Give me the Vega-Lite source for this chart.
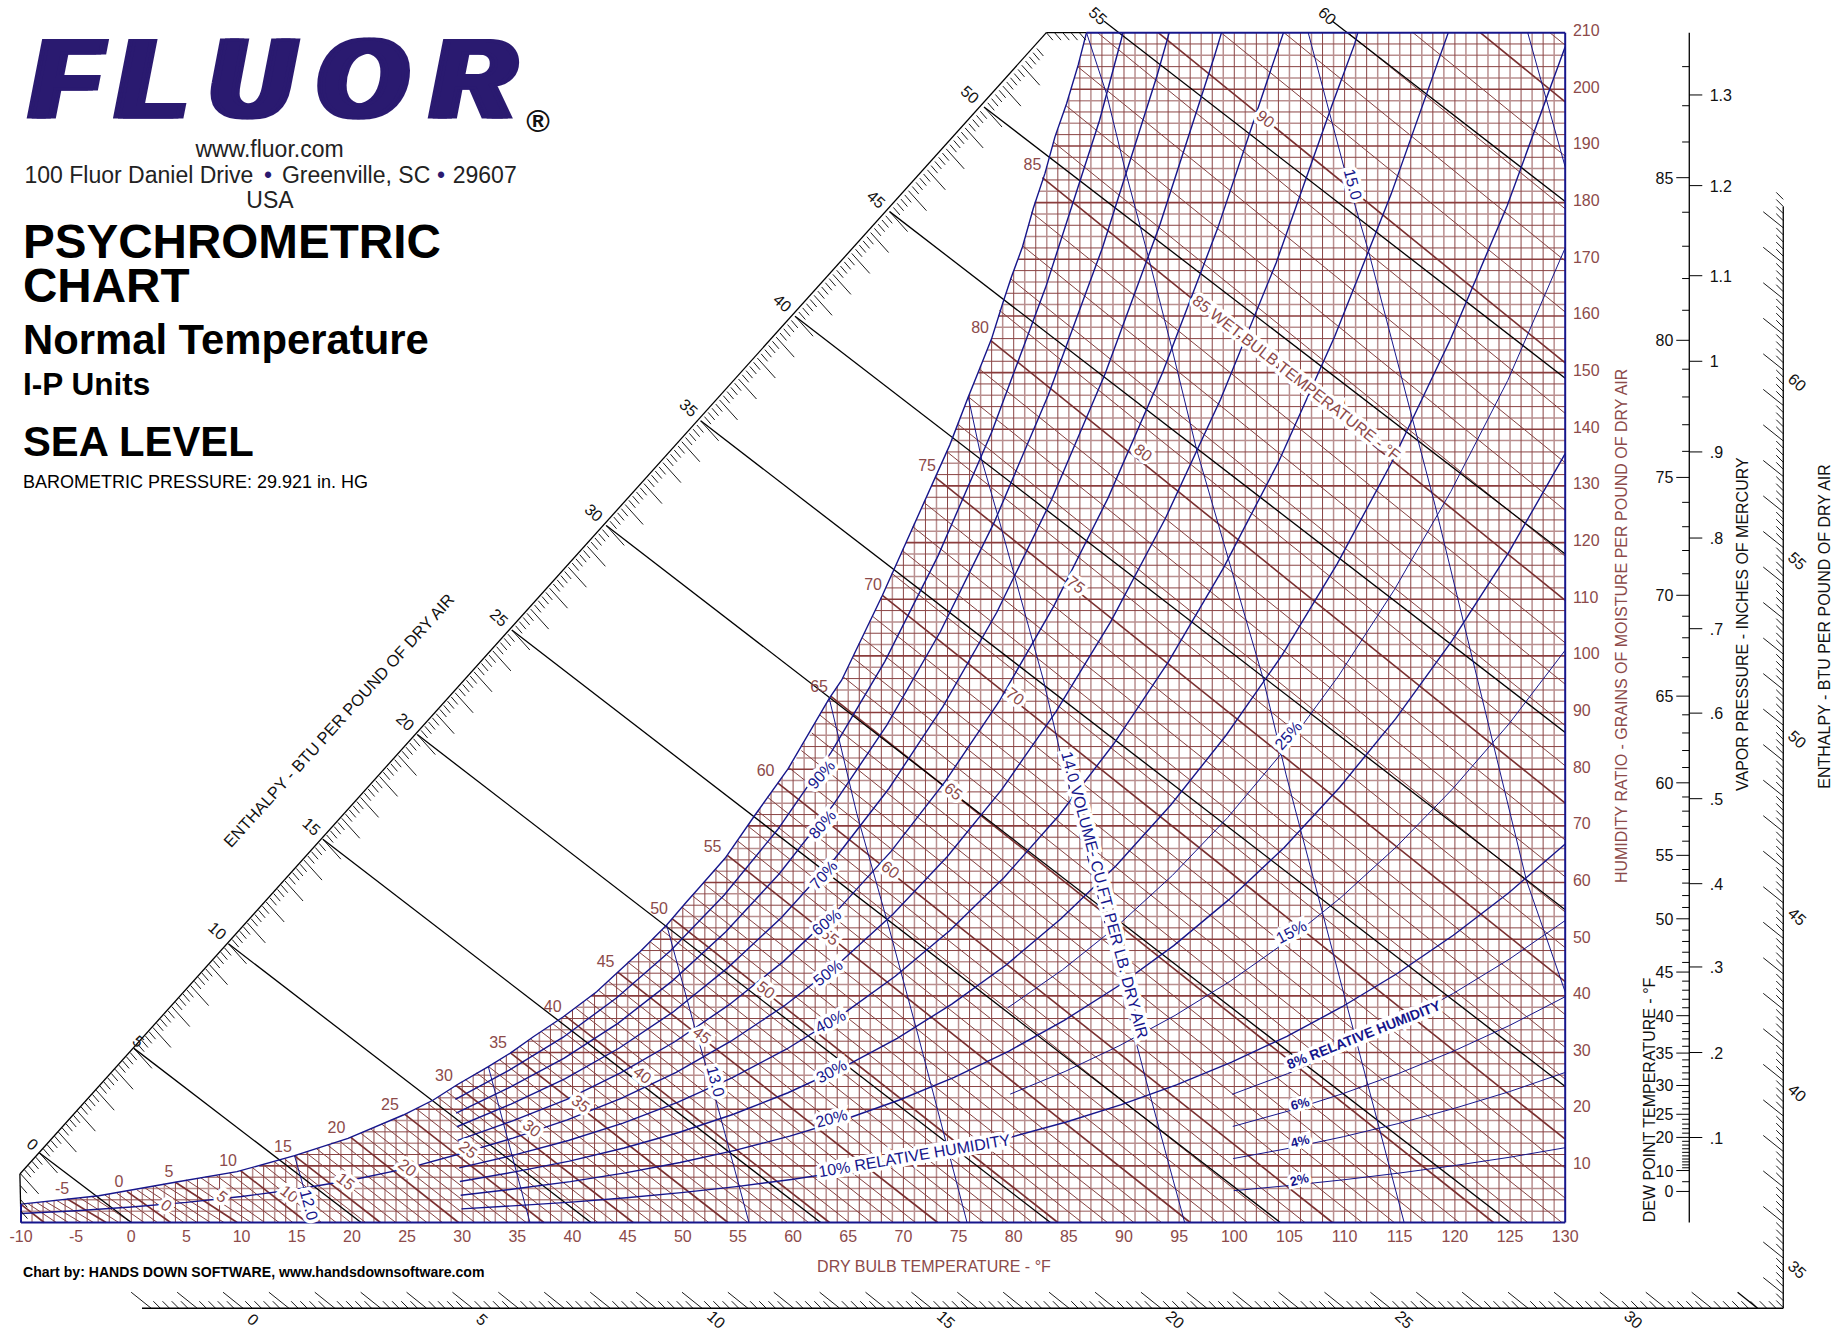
{"$schema":"https://vega.github.io/schema/vega-lite/v6.json","width":1842,"height":1335,"padding":0,"autosize":{"type":"fit","contains":"padding"},"background":"white","config":{"view":{"stroke":null}},
"datasets":{
"gv":[{"x":-10,"y":3.25},{"x":-9,"y":3.45},{"x":-8,"y":3.65},{"x":-7,"y":3.85},{"x":-6,"y":4.05},{"x":-5,"y":4.3},{"x":-4,"y":4.5},{"x":-3,"y":4.7},{"x":-2,"y":5},{"x":-1,"y":5.3},{"x":0,"y":5.6},{"x":1,"y":6},{"x":2,"y":6.4},{"x":3,"y":6.8},{"x":4,"y":7.1},{"x":5,"y":7.5},{"x":6,"y":7.8},{"x":7,"y":8.1},{"x":8,"y":8.4},{"x":9,"y":8.75},{"x":10,"y":9.2},{"x":11,"y":9.7},{"x":12,"y":10.2},{"x":13,"y":10.7},{"x":14,"y":11.3},{"x":15,"y":11.9},{"x":16,"y":12.5},{"x":17,"y":13.2},{"x":18,"y":13.8},{"x":19,"y":14.4},{"x":20,"y":15.1},{"x":21,"y":16},{"x":22,"y":16.8},{"x":23,"y":17.6},{"x":24,"y":18.4},{"x":25,"y":19.3},{"x":26,"y":20.2},{"x":27,"y":21.2},{"x":28,"y":22.3},{"x":29,"y":23.6},{"x":30,"y":24.9},{"x":31,"y":26},{"x":32,"y":27.1},{"x":33,"y":28.3},{"x":34,"y":29.5},{"x":35,"y":30.8},{"x":36,"y":32.2},{"x":37,"y":33.6},{"x":38,"y":34.8},{"x":39,"y":36.1},{"x":40,"y":37.5},{"x":41,"y":39},{"x":42,"y":40.5},{"x":43,"y":42.2},{"x":44,"y":44},{"x":45,"y":45.9},{"x":46,"y":47.6},{"x":47,"y":49.5},{"x":48,"y":51.4},{"x":49,"y":53.4},{"x":50,"y":55.8},{"x":51,"y":58},{"x":52,"y":60.2},{"x":53,"y":62.4},{"x":54,"y":64.7},{"x":55,"y":67.5},{"x":56,"y":70.3},{"x":57,"y":73.1},{"x":58,"y":75.8},{"x":59,"y":78.6},{"x":60,"y":81.3},{"x":61,"y":84.7},{"x":62,"y":88.1},{"x":63,"y":91.6},{"x":64,"y":94.6},{"x":65,"y":98},{"x":66,"y":102.2},{"x":67,"y":106.3},{"x":68,"y":110.4},{"x":69,"y":114.7},{"x":70,"y":119},{"x":71,"y":123.4},{"x":72,"y":127.7},{"x":73,"y":132},{"x":74,"y":136.4},{"x":75,"y":141.3},{"x":76,"y":146.3},{"x":77,"y":151.1},{"x":78,"y":156},{"x":79,"y":162.2},{"x":80,"y":168},{"x":81,"y":173.4},{"x":82,"y":180.3},{"x":83,"y":186.4},{"x":84,"y":193},{"x":85,"y":198.7},{"x":86,"y":205.3},{"x":87,"y":210},{"x":88,"y":210},{"x":89,"y":210},{"x":90,"y":210},{"x":91,"y":210},{"x":92,"y":210},{"x":93,"y":210},{"x":94,"y":210},{"x":95,"y":210},{"x":96,"y":210},{"x":97,"y":210},{"x":98,"y":210},{"x":99,"y":210},{"x":100,"y":210},{"x":101,"y":210},{"x":102,"y":210},{"x":103,"y":210},{"x":104,"y":210},{"x":105,"y":210},{"x":106,"y":210},{"x":107,"y":210},{"x":108,"y":210},{"x":109,"y":210},{"x":110,"y":210},{"x":111,"y":210},{"x":112,"y":210},{"x":113,"y":210},{"x":114,"y":210},{"x":115,"y":210},{"x":116,"y":210},{"x":117,"y":210},{"x":118,"y":210},{"x":119,"y":210},{"x":120,"y":210},{"x":121,"y":210},{"x":122,"y":210},{"x":123,"y":210},{"x":124,"y":210},{"x":125,"y":210},{"x":126,"y":210},{"x":127,"y":210},{"x":128,"y":210},{"x":129,"y":210}],
"gh":[{"y":2,"x":-10},{"y":4,"x":-6.2},{"y":6,"x":1},{"y":8,"x":6.7},{"y":10,"x":11.6},{"y":12,"x":15.1},{"y":14,"x":18.1},{"y":16,"x":21},{"y":18,"x":23.5},{"y":20,"x":25.8},{"y":22,"x":27.8},{"y":24,"x":29.3},{"y":26,"x":31},{"y":28,"x":32.8},{"y":30,"x":34.4},{"y":32,"x":35.9},{"y":34,"x":37.4},{"y":36,"x":38.9},{"y":38,"x":40.4},{"y":40,"x":41.7},{"y":42,"x":42.9},{"y":44,"x":44},{"y":46,"x":45},{"y":48,"x":46.2},{"y":50,"x":47.25},{"y":52,"x":48.3},{"y":54,"x":49.25},{"y":56,"x":50.1},{"y":58,"x":51},{"y":60,"x":51.9},{"y":62,"x":52.8},{"y":64,"x":53.7},{"y":66,"x":54.5},{"y":68,"x":55.2},{"y":70,"x":55.9},{"y":72,"x":56.6},{"y":74,"x":57.3},{"y":76,"x":58.1},{"y":78,"x":58.8},{"y":80,"x":59.5},{"y":82,"x":60.3},{"y":84,"x":60.8},{"y":86,"x":61.5},{"y":88,"x":62},{"y":90,"x":62.55},{"y":92,"x":63.1},{"y":94,"x":63.8},{"y":96,"x":64.5},{"y":98,"x":65},{"y":100,"x":65.46},{"y":102,"x":65.95},{"y":104,"x":66.45},{"y":106,"x":66.94},{"y":108,"x":67.43},{"y":110,"x":67.92},{"y":112,"x":68.4},{"y":114,"x":68.86},{"y":116,"x":69.32},{"y":118,"x":69.78},{"y":120,"x":70.24},{"y":122,"x":70.7},{"y":124,"x":71.16},{"y":126,"x":71.62},{"y":128,"x":72.08},{"y":130,"x":72.54},{"y":132,"x":73},{"y":134,"x":73.46},{"y":136,"x":73.9},{"y":138,"x":74.4},{"y":140,"x":74.76},{"y":142,"x":75.15},{"y":144,"x":75.55},{"y":146,"x":75.95},{"y":148,"x":76.35},{"y":150,"x":76.8},{"y":152,"x":77.2},{"y":154,"x":77.6},{"y":156,"x":78},{"y":158,"x":78.3},{"y":160,"x":78.6},{"y":162,"x":79},{"y":164,"x":79.3},{"y":166,"x":79.65},{"y":168,"x":80},{"y":170,"x":80.4},{"y":172,"x":80.8},{"y":174,"x":81.05},{"y":176,"x":81.35},{"y":178,"x":81.65},{"y":180,"x":81.9},{"y":182,"x":82.3},{"y":184,"x":82.65},{"y":186,"x":82.95},{"y":188,"x":83.25},{"y":190,"x":83.5},{"y":192,"x":83.8},{"y":194,"x":84.15},{"y":196,"x":84.5},{"y":198,"x":84.9},{"y":200,"x":85.2},{"y":202,"x":85.5},{"y":204,"x":85.8},{"y":206,"x":86.1},{"y":208,"x":86.35}],
"wb":[{"n":-10,"x":-10,"y":3.21,"x2":-7.9,"y2":0},{"n":-9,"x":-9.4,"y":3.38,"x2":-6.8,"y2":0},{"n":-8,"x":-8.6,"y":3.55,"x2":-5.7,"y2":0},{"n":-7,"x":-7.8,"y":3.73,"x2":-4.56,"y2":0},{"n":-6,"x":-6.8,"y":3.93,"x2":-3.43,"y2":0},{"n":-5,"x":-5.8,"y":4.14,"x2":-2.29,"y2":0},{"n":-4,"x":-4.7,"y":4.37,"x2":-1.14,"y2":0},{"n":-3,"x":-3.6,"y":4.6,"x2":0.01,"y2":0},{"n":-2,"x":-2.4,"y":4.85,"x2":1.17,"y2":0},{"n":-1,"x":-1.3,"y":5.15,"x2":2.36,"y2":0},{"n":0,"x":-0.4,"y":5.48,"x2":3.56,"y2":0},{"n":1,"x":0.5,"y":5.78,"x2":4.76,"y2":0},{"n":2,"x":1.25,"y":6.1,"x2":5.96,"y2":0},{"n":3,"x":2.1,"y":6.44,"x2":7.18,"y2":0},{"n":4,"x":2.9,"y":6.77,"x2":8.4,"y2":0},{"n":5,"x":4,"y":7.11,"x2":9.6,"y2":0},{"n":6,"x":5,"y":7.5,"x2":10.86,"y2":0},{"n":7,"x":6.3,"y":7.9,"x2":12.1,"y2":0},{"n":8,"x":7.7,"y":8.3,"x2":13.4,"y2":0},{"n":9,"x":8.9,"y":8.73,"x2":14.64,"y2":0},{"n":10,"x":9.9,"y":9.17,"x2":15.93,"y2":0},{"n":11,"x":11,"y":9.66,"x2":17.24,"y2":0},{"n":12,"x":12,"y":10.17,"x2":18.57,"y2":0},{"n":13,"x":13,"y":10.7,"x2":19.9,"y2":0},{"n":14,"x":13.9,"y":11.2,"x2":21.24,"y2":0},{"n":15,"x":14.8,"y":11.76,"x2":22.58,"y2":0},{"n":16,"x":15.8,"y":12.38,"x2":23.98,"y2":0},{"n":17,"x":16.8,"y":13.01,"x2":25.38,"y2":0},{"n":18,"x":17.8,"y":13.66,"x2":26.8,"y2":0},{"n":19,"x":18.9,"y":14.33,"x2":28.2,"y2":0},{"n":20,"x":19.9,"y":15.02,"x2":29.67,"y2":0},{"n":21,"x":20.8,"y":15.77,"x2":31.15,"y2":0},{"n":22,"x":21.7,"y":16.55,"x2":32.65,"y2":0},{"n":23,"x":22.7,"y":17.37,"x2":34.2,"y2":0},{"n":24,"x":23.8,"y":18.22,"x2":35.8,"y2":0},{"n":25,"x":24.8,"y":19.1,"x2":37.4,"y2":0},{"n":26,"x":25.85,"y":20.05,"x2":39,"y2":0},{"n":27,"x":26.85,"y":21.04,"x2":40.7,"y2":0},{"n":28,"x":27.8,"y":22.07,"x2":42.3,"y2":0},{"n":29,"x":28.6,"y":23.1,"x2":43.8,"y2":0},{"n":30,"x":29.45,"y":24.18,"x2":45.5,"y2":0},{"n":31,"x":30.25,"y":25.3,"x2":47.2,"y2":0},{"n":32,"x":31.3,"y":26.4,"x2":48.9,"y2":0},{"n":33,"x":32.4,"y":27.5,"x2":50.6,"y2":0},{"n":34,"x":33.4,"y":28.7,"x2":52.35,"y2":0},{"n":35,"x":34.4,"y":29.9,"x2":54.1,"y2":0},{"n":36,"x":35.2,"y":31.1,"x2":55.9,"y2":0},{"n":37,"x":36.2,"y":32.4,"x2":57.7,"y2":0},{"n":38,"x":37.15,"y":33.7,"x2":59.5,"y2":0},{"n":39,"x":38.2,"y":35.1,"x2":61.4,"y2":0},{"n":40,"x":39.3,"y":36.5,"x2":63.3,"y2":0},{"n":41,"x":40.25,"y":37.9,"x2":65.1,"y2":0},{"n":42,"x":41.25,"y":39.4,"x2":67.1,"y2":0},{"n":43,"x":42.35,"y":41,"x2":69.1,"y2":0},{"n":44,"x":43.25,"y":42.6,"x2":71.1,"y2":0},{"n":45,"x":44.1,"y":44.2,"x2":73.1,"y2":0},{"n":46,"x":45.05,"y":45.9,"x2":75.2,"y2":0},{"n":47,"x":46.05,"y":47.7,"x2":77.3,"y2":0},{"n":48,"x":47,"y":49.6,"x2":79.5,"y2":0},{"n":49,"x":48.1,"y":51.6,"x2":81.7,"y2":0},{"n":50,"x":49.05,"y":53.6,"x2":84,"y2":0},{"n":51,"x":49.95,"y":55.6,"x2":86.2,"y2":0},{"n":52,"x":50.85,"y":57.7,"x2":88.5,"y2":0},{"n":53,"x":51.85,"y":59.9,"x2":90.9,"y2":0},{"n":54,"x":52.95,"y":62.3,"x2":93.4,"y2":0},{"n":55,"x":54.05,"y":64.8,"x2":96,"y2":0},{"n":56,"x":55,"y":67.3,"x2":98.5,"y2":0},{"n":57,"x":55.95,"y":69.9,"x2":101.2,"y2":0},{"n":58,"x":56.8,"y":72.6,"x2":103.8,"y2":0},{"n":59,"x":57.65,"y":75.1,"x2":106.4,"y2":0},{"n":60,"x":58.6,"y":77.6,"x2":108.9,"y2":0},{"n":61,"x":59.6,"y":80.3,"x2":111.6,"y2":0},{"n":62,"x":60.75,"y":83.3,"x2":114.5,"y2":0},{"n":63,"x":61.7,"y":86.4,"x2":117.4,"y2":0},{"n":64,"x":62.4,"y":89.6,"x2":120.4,"y2":0},{"n":65,"x":63.4,"y":92.9,"x2":123.5,"y2":0},{"n":66,"x":64.55,"y":96.3,"x2":126.6,"y2":0},{"n":67,"x":65.4,"y":99.7,"x2":129.7,"y2":0},{"n":68,"x":66.25,"y":103.2,"x2":130,"y2":4.3},{"n":69,"x":67.2,"y":107,"x2":130,"y2":9.6},{"n":70,"x":68.1,"y":110.7,"x2":130,"y2":14.7},{"n":71,"x":69,"y":114.5,"x2":130,"y2":19.9},{"n":72,"x":69.9,"y":118.6,"x2":130,"y2":25.3},{"n":73,"x":70.85,"y":122.8,"x2":130,"y2":30.9},{"n":74,"x":71.85,"y":127.1,"x2":130,"y2":36.7},{"n":75,"x":72.9,"y":131.5,"x2":130,"y2":42.5},{"n":76,"x":73.9,"y":136.1,"x2":130,"y2":48.5},{"n":77,"x":75,"y":140.8,"x2":130,"y2":54.8},{"n":78,"x":75.9,"y":145.7,"x2":130,"y2":61},{"n":79,"x":76.9,"y":150.6,"x2":130,"y2":67.5},{"n":80,"x":77.9,"y":155.7,"x2":130,"y2":74},{"n":81,"x":78.7,"y":161,"x2":130,"y2":80.6},{"n":82,"x":79.7,"y":166.6,"x2":130,"y2":87.7},{"n":83,"x":80.85,"y":172.3,"x2":130,"y2":95},{"n":84,"x":81.6,"y":178.3,"x2":130,"y2":102.3},{"n":85,"x":82.6,"y":184.4,"x2":130,"y2":109.8},{"n":86,"x":83.6,"y":190.7,"x2":130,"y2":117.6},{"n":87,"x":84.75,"y":197.1,"x2":130,"y2":125.7},{"n":88,"x":85.8,"y":204,"x2":130,"y2":134.1},{"n":89,"x":87.6,"y":210,"x2":130,"y2":142.8},{"n":90,"x":93.1,"y":210,"x2":130,"y2":151.7},{"n":91,"x":98.8,"y":210,"x2":130,"y2":160.7},{"n":92,"x":104.5,"y":210,"x2":130,"y2":169.7},{"n":93,"x":110.3,"y":210,"x2":130,"y2":178.9},{"n":94,"x":116.2,"y":210,"x2":130,"y2":188.2},{"n":95,"x":122.3,"y":210,"x2":130,"y2":197.8},{"n":96,"x":128.6,"y":210,"x2":130,"y2":207.8}],
"hl":[{"x":-8.32,"y":12.27,"x2":0,"y2":0},{"x":0.24,"y":30.73,"x2":20.83,"y2":0},{"x":8.81,"y":49.19,"x2":41.67,"y2":0},{"x":17.37,"y":67.65,"x2":62.5,"y2":0},{"x":25.93,"y":86.11,"x2":83.33,"y2":0},{"x":34.5,"y":104.57,"x2":104.17,"y2":0},{"x":43.06,"y":123.03,"x2":125,"y2":0},{"x":51.62,"y":141.49,"x2":130,"y2":24},{"x":60.18,"y":159.95,"x2":130,"y2":55.2},{"x":68.75,"y":178.41,"x2":130,"y2":86.5},{"x":77.31,"y":196.87,"x2":130,"y2":118},{"x":88.2,"y":212,"x2":130,"y2":149},{"x":108.9,"y":212,"x2":130,"y2":180.2}],
"frameK":[{"x":-10.1,"y":8.55,"x2":-10,"y2":0},{"x":-10.1,"y":8.55,"x2":82.96,"y2":210},{"x":82.96,"y":210,"x2":86.6,"y2":210},{"x":0.97,"y":-15.13,"x2":149.77,"y2":-15.13},{"x":149.77,"y":-15.13,"x2":149.77,"y2":179.3},{"x":141.25,"y":0,"x2":141.25,"y2":210},{"x":147.44,"y":-15.13,"x2":145.63,"y2":-12.31}],
"frameB":[{"x":-10,"y":0,"x2":130,"y2":0},{"x":130,"y":0,"x2":130,"y2":210},{"x":86.6,"y":210,"x2":130,"y2":210},{"x":-10,"y":0,"x2":-10,"y2":3.25}],
"combL":[{"x":-10.03,"y":8.58},{"x":-8.32,"y":12.27},{"x":-6.61,"y":15.96},{"x":-4.89,"y":19.65},{"x":-3.18,"y":23.35},{"x":-1.47,"y":27.04},{"x":0.24,"y":30.73},{"x":1.96,"y":34.42},{"x":3.67,"y":38.11},{"x":5.38,"y":41.81},{"x":7.09,"y":45.5},{"x":8.81,"y":49.19},{"x":10.52,"y":52.88},{"x":12.23,"y":56.57},{"x":13.94,"y":60.27},{"x":15.66,"y":63.96},{"x":17.37,"y":67.65},{"x":19.08,"y":71.34},{"x":20.79,"y":75.03},{"x":22.51,"y":78.73},{"x":24.22,"y":82.42},{"x":25.93,"y":86.11},{"x":27.64,"y":89.8},{"x":29.36,"y":93.49},{"x":31.07,"y":97.19},{"x":32.78,"y":100.88},{"x":34.5,"y":104.57},{"x":36.21,"y":108.26},{"x":37.92,"y":111.95},{"x":39.63,"y":115.65},{"x":41.35,"y":119.34},{"x":43.06,"y":123.03},{"x":44.77,"y":126.72},{"x":46.48,"y":130.41},{"x":48.2,"y":134.11},{"x":49.91,"y":137.8},{"x":51.62,"y":141.49},{"x":53.33,"y":145.18},{"x":55.05,"y":148.87},{"x":56.76,"y":152.57},{"x":58.47,"y":156.26},{"x":60.18,"y":159.95},{"x":61.9,"y":163.64},{"x":63.61,"y":167.33},{"x":65.32,"y":171.03},{"x":67.03,"y":174.72},{"x":68.75,"y":178.41},{"x":70.46,"y":182.1},{"x":72.17,"y":185.79},{"x":73.88,"y":189.49},{"x":75.6,"y":193.18},{"x":77.31,"y":196.87},{"x":79.02,"y":200.56},{"x":80.73,"y":204.25}],
"combB":[{"x":1.8,"y":-15.13},{"x":5.97,"y":-15.13},{"x":10.13,"y":-15.13},{"x":14.29,"y":-15.13},{"x":18.45,"y":-15.13},{"x":22.61,"y":-15.13},{"x":26.77,"y":-15.13},{"x":30.93,"y":-15.13},{"x":35.09,"y":-15.13},{"x":39.25,"y":-15.13},{"x":43.42,"y":-15.13},{"x":47.58,"y":-15.13},{"x":51.74,"y":-15.13},{"x":55.9,"y":-15.13},{"x":60.06,"y":-15.13},{"x":64.22,"y":-15.13},{"x":68.38,"y":-15.13},{"x":72.54,"y":-15.13},{"x":76.7,"y":-15.13},{"x":80.86,"y":-15.13},{"x":85.02,"y":-15.13},{"x":89.19,"y":-15.13},{"x":93.35,"y":-15.13},{"x":97.51,"y":-15.13},{"x":101.67,"y":-15.13},{"x":105.83,"y":-15.13},{"x":109.99,"y":-15.13},{"x":114.15,"y":-15.13},{"x":118.31,"y":-15.13},{"x":122.47,"y":-15.13},{"x":126.63,"y":-15.13},{"x":130.8,"y":-15.13},{"x":134.96,"y":-15.13},{"x":139.12,"y":-15.13},{"x":143.28,"y":-15.13}],
"combR":[{"x":149.77,"y":-12.54},{"x":149.77,"y":-6.27},{"x":149.77,"y":0},{"x":149.77,"y":6.27},{"x":149.77,"y":12.54},{"x":149.77,"y":18.81},{"x":149.77,"y":25.08},{"x":149.77,"y":31.35},{"x":149.77,"y":37.62},{"x":149.77,"y":43.89},{"x":149.77,"y":50.16},{"x":149.77,"y":56.43},{"x":149.77,"y":62.7},{"x":149.77,"y":68.97},{"x":149.77,"y":75.24},{"x":149.77,"y":81.51},{"x":149.77,"y":87.78},{"x":149.77,"y":94.05},{"x":149.77,"y":100.32},{"x":149.77,"y":106.59},{"x":149.77,"y":112.86},{"x":149.77,"y":119.13},{"x":149.77,"y":125.4},{"x":149.77,"y":131.67},{"x":149.77,"y":137.94},{"x":149.77,"y":144.21},{"x":149.77,"y":150.48},{"x":149.77,"y":156.75},{"x":149.77,"y":163.02},{"x":149.77,"y":169.29},{"x":149.77,"y":175.56}],
"minUL":[{"x":147.44,"y":-15.13},{"x":148.27,"y":-15.13},{"x":149.1,"y":-15.13},{"x":149.77,"y":-15},{"x":149.77,"y":-13.8}],
"minDR":[{"x":83.7,"y":210},{"x":84.45,"y":210},{"x":85.2,"y":210},{"x":85.95,"y":210},{"x":82.96,"y":210},{"x":-10.05,"y":6.5},{"x":-10.02,"y":4},{"x":-10,"y":2}],
"rh":[
{"s":"100","x":-10,"y":3.25},{"s":"100","x":-2.94,"y":4.73},{"s":"100","x":4.23,"y":7.2},{"s":"100","x":9.58,"y":8.97},{"s":"100","x":14.8,"y":11.79},{"s":"100","x":19.65,"y":14.86},{"s":"100","x":24.66,"y":18.97},{"s":"100","x":27.38,"y":21.62},{"s":"100","x":29.5,"y":24.27},{"s":"100","x":32.37,"y":27.5},{"s":"100","x":34.33,"y":29.86},{"s":"100","x":36.45,"y":32.79},{"s":"100","x":39.17,"y":36.32},{"s":"100","x":42.19,"y":40.73},{"s":"100","x":44,"y":43.98},{"s":"100","x":46.12,"y":47.79},{"s":"100","x":48.54,"y":52.5},{"s":"100","x":50.35,"y":56.6},{"s":"100","x":51.56,"y":59.26},{"s":"100","x":53.83,"y":64.28},{"s":"100","x":56.55,"y":71.92},{"s":"100","x":59.57,"y":80.16},{"s":"100","x":63.28,"y":92.5},{"s":"100","x":64.4,"y":95.7},{"s":"100","x":68.1,"y":110.7},{"s":"100","x":74.2,"y":137.2},{"s":"100","x":75.88,"y":145.7},{"s":"100","x":76.94,"y":150.8},{"s":"100","x":78,"y":156},{"s":"100","x":79.05,"y":162.5},{"s":"100","x":79.8,"y":166.9},{"s":"100","x":80.8,"y":172.2},{"s":"100","x":81.78,"y":179},{"s":"100","x":82.84,"y":185.2},{"s":"100","x":83.74,"y":191.6},{"s":"100","x":84.8,"y":197.5},{"s":"100","x":85.85,"y":204.3},{"s":"100","x":86.6,"y":210},
{"s":"90","x":29.38,"y":21.75},{"s":"90","x":34.27,"y":26.9},{"s":"90","x":39.16,"y":32.7},{"s":"90","x":44.04,"y":39.7},{"s":"90","x":48.91,"y":48},{"s":"90","x":53.76,"y":57.8},{"s":"90","x":58.62,"y":69.4},{"s":"90","x":63.46,"y":83},{"s":"90","x":68.31,"y":99},{"s":"90","x":73.15,"y":117.7},{"s":"90","x":78.01,"y":139.5},{"s":"90","x":82.89,"y":165},{"s":"90","x":87.78,"y":194.5},{"s":"90","x":89.74,"y":208.7},{"s":"90","x":89.9,"y":210},
{"s":"80","x":29.45,"y":19.3},{"s":"80","x":34.35,"y":23.9},{"s":"80","x":39.25,"y":29},{"s":"80","x":44.15,"y":35.2},{"s":"80","x":49.03,"y":42.6},{"s":"80","x":53.9,"y":51.3},{"s":"80","x":58.77,"y":61.6},{"s":"80","x":63.64,"y":73.7},{"s":"80","x":68.5,"y":87.8},{"s":"80","x":73.36,"y":104.3},{"s":"80","x":78.24,"y":123.6},{"s":"80","x":83.13,"y":146},{"s":"80","x":88.04,"y":172},{"s":"80","x":92.98,"y":202.3},{"s":"80","x":94.1,"y":210},
{"s":"70","x":29.52,"y":16.9},{"s":"70","x":34.43,"y":20.9},{"s":"70","x":39.35,"y":25.4},{"s":"70","x":44.25,"y":30.8},{"s":"70","x":49.15,"y":37.2},{"s":"70","x":54.04,"y":44.9},{"s":"70","x":58.93,"y":53.8},{"s":"70","x":63.81,"y":64.3},{"s":"70","x":68.69,"y":76.6},{"s":"70","x":73.57,"y":91},{"s":"70","x":78.47,"y":107.7},{"s":"70","x":83.37,"y":127.3},{"s":"70","x":88.29,"y":149.8},{"s":"70","x":93.24,"y":176},{"s":"70","x":98.24,"y":206.1},{"s":"70","x":98.84,"y":210},
{"s":"60","x":29.59,"y":14.5},{"s":"60","x":34.51,"y":17.9},{"s":"60","x":39.44,"y":21.7},{"s":"60","x":44.36,"y":26.4},{"s":"60","x":49.27,"y":31.9},{"s":"60","x":54.18,"y":38.4},{"s":"60","x":59.08,"y":46},{"s":"60","x":63.98,"y":55},{"s":"60","x":68.88,"y":65.5},{"s":"60","x":73.78,"y":77.8},{"s":"60","x":78.69,"y":92},{"s":"60","x":83.61,"y":108.7},{"s":"60","x":88.54,"y":127.8},{"s":"60","x":93.5,"y":150},{"s":"60","x":98.5,"y":175.5},{"s":"60","x":103.55,"y":204.8},{"s":"60","x":104.46,"y":210},
{"s":"50","x":-10,"y":1.6},{"s":"50","x":-5,"y":2.07},{"s":"50","x":0,"y":2.74},{"s":"50","x":5,"y":3.55},{"s":"50","x":10,"y":4.59},{"s":"50","x":15,"y":5.88},{"s":"50","x":20,"y":7.5},{"s":"50","x":25,"y":9.55},{"s":"50","x":29.66,"y":12.05},{"s":"50","x":34.6,"y":14.9},{"s":"50","x":39.53,"y":18.1},{"s":"50","x":44.47,"y":21.95},{"s":"50","x":49.4,"y":26.5},{"s":"50","x":54.32,"y":31.95},{"s":"50","x":59.24,"y":38.3},{"s":"50","x":64.15,"y":45.7},{"s":"50","x":69.07,"y":54.45},{"s":"50","x":73.99,"y":64.6},{"s":"50","x":78.91,"y":76.4},{"s":"50","x":83.85,"y":90.2},{"s":"50","x":88.79,"y":106},{"s":"50","x":93.76,"y":124.3},{"s":"50","x":98.76,"y":145.3},{"s":"50","x":103.8,"y":169.4},{"s":"50","x":108.88,"y":197.3},{"s":"50","x":110.93,"y":208.1},{"s":"50","x":111.2,"y":210},
{"s":"40","x":29.73,"y":9.64},{"s":"40","x":34.68,"y":11.9},{"s":"40","x":39.63,"y":14.47},{"s":"40","x":44.58,"y":17.55},{"s":"40","x":49.52,"y":21.2},{"s":"40","x":54.45,"y":25.53},{"s":"40","x":59.39,"y":30.58},{"s":"40","x":64.32,"y":36.5},{"s":"40","x":69.26,"y":43.45},{"s":"40","x":74.19,"y":51.5},{"s":"40","x":79.13,"y":60.9},{"s":"40","x":84.08,"y":71.8},{"s":"40","x":89.04,"y":84.4},{"s":"40","x":94.01,"y":98.9},{"s":"40","x":99.01,"y":115.5},{"s":"40","x":104.05,"y":134.4},{"s":"40","x":109.11,"y":156.4},{"s":"40","x":114.22,"y":181.5},{"s":"40","x":119.4,"y":210},
{"s":"30","x":29.79,"y":7.23},{"s":"30","x":34.76,"y":8.93},{"s":"30","x":39.72,"y":10.84},{"s":"30","x":44.68,"y":13.15},{"s":"30","x":49.64,"y":15.89},{"s":"30","x":54.59,"y":19.11},{"s":"30","x":59.54,"y":22.9},{"s":"30","x":64.49,"y":27.34},{"s":"30","x":69.44,"y":32.5},{"s":"30","x":74.39,"y":38.54},{"s":"30","x":79.35,"y":45.5},{"s":"30","x":84.31,"y":53.65},{"s":"30","x":89.28,"y":62.97},{"s":"30","x":94.26,"y":73.72},{"s":"30","x":99.26,"y":86},{"s":"30","x":104.29,"y":100},{"s":"30","x":109.34,"y":116.3},{"s":"30","x":114.42,"y":134.7},{"s":"30","x":119.56,"y":155.7},{"s":"30","x":124.75,"y":179.5},{"s":"30","x":130,"y":207.5},
{"s":"20","x":29.86,"y":4.8},{"s":"20","x":34.84,"y":5.95},{"s":"20","x":39.81,"y":7.21},{"s":"20","x":44.79,"y":8.75},{"s":"20","x":49.76,"y":10.58},{"s":"20","x":54.73,"y":12.73},{"s":"20","x":59.7,"y":15.24},{"s":"20","x":64.66,"y":18.18},{"s":"20","x":69.63,"y":21.62},{"s":"20","x":74.6,"y":25.61},{"s":"20","x":79.57,"y":30.26},{"s":"20","x":84.54,"y":35.62},{"s":"20","x":89.52,"y":41.78},{"s":"20","x":94.51,"y":48.86},{"s":"20","x":99.51,"y":56.98},{"s":"20","x":104.53,"y":66.2},{"s":"20","x":109.56,"y":76.82},{"s":"20","x":114.62,"y":88.88},{"s":"20","x":119.71,"y":102.6},{"s":"20","x":124.83,"y":118.1},{"s":"20","x":130,"y":135.7},
{"s":"10","x":29.93,"y":2.4},{"s":"10","x":34.92,"y":2.97},{"s":"10","x":39.91,"y":3.6},{"s":"10","x":44.89,"y":4.37},{"s":"10","x":49.88,"y":5.28},{"s":"10","x":54.86,"y":6.34},{"s":"10","x":59.85,"y":7.6},{"s":"10","x":64.83,"y":9.07},{"s":"10","x":69.82,"y":10.78},{"s":"10","x":74.8,"y":12.77},{"s":"10","x":79.79,"y":15.07},{"s":"10","x":84.77,"y":17.74},{"s":"10","x":89.76,"y":20.79},{"s":"10","x":94.76,"y":24.3},{"s":"10","x":99.76,"y":28.31},{"s":"10","x":104.77,"y":32.85},{"s":"10","x":109.78,"y":38.08},{"s":"10","x":114.81,"y":43.99},{"s":"10","x":119.86,"y":50.69},{"s":"10","x":124.92,"y":58.25},{"s":"10","x":130,"y":66.8}],
"rhThin":[
{"s":"15","x":79.68,"y":22.65},{"s":"15","x":84.66,"y":26.66},{"s":"15","x":89.64,"y":31.26},{"s":"15","x":94.63,"y":36.55},{"s":"15","x":99.64,"y":42.6},{"s":"15","x":104.65,"y":49.47},{"s":"15","x":109.67,"y":57.37},{"s":"15","x":114.71,"y":66.33},{"s":"15","x":119.78,"y":76.5},{"s":"15","x":124.88,"y":87.95},{"s":"15","x":130,"y":101},
{"s":"25","x":79.46,"y":37.89},{"s":"25","x":84.43,"y":44.61},{"s":"25","x":89.4,"y":52.35},{"s":"25","x":94.39,"y":61.26},{"s":"25","x":99.39,"y":71.45},{"s":"25","x":104.41,"y":83.08},{"s":"25","x":109.45,"y":96.46},{"s":"25","x":114.52,"y":111.7},{"s":"25","x":119.63,"y":129},{"s":"25","x":124.79,"y":148.6},{"s":"25","x":130,"y":172},
{"s":"2","x":99.95,"y":5.62},{"s":"2","x":104.95,"y":6.52},{"s":"2","x":109.96,"y":7.55},{"s":"2","x":114.96,"y":8.73},{"s":"2","x":119.97,"y":10.05},{"s":"2","x":124.98,"y":11.52},{"s":"2","x":130,"y":13.2},
{"s":"4","x":99.9,"y":11.28},{"s":"4","x":104.91,"y":13.08},{"s":"4","x":109.91,"y":15.15},{"s":"4","x":114.92,"y":17.49},{"s":"4","x":119.94,"y":20.14},{"s":"4","x":124.97,"y":23.11},{"s":"4","x":130,"y":26.48},
{"s":"6","x":99.86,"y":16.95},{"s":"6","x":104.86,"y":19.65},{"s":"6","x":109.87,"y":22.76},{"s":"6","x":114.89,"y":26.29},{"s":"6","x":119.91,"y":30.27},{"s":"6","x":124.95,"y":34.77},{"s":"6","x":130,"y":39.85},
{"s":"8","x":99.81,"y":22.62},{"s":"8","x":104.81,"y":26.25},{"s":"8","x":109.83,"y":30.4},{"s":"8","x":114.85,"y":35.12},{"s":"8","x":119.88,"y":40.46},{"s":"8","x":124.93,"y":46.47},{"s":"8","x":130,"y":53.29},
{"s":"v12","x":14.8,"y":11.79},{"s":"v12","x":16.53,"y":0},
{"s":"v125","x":32.37,"y":27.5},{"s":"v125","x":36.14,"y":0},
{"s":"v13","x":48.54,"y":52.5},{"s":"v13","x":51.1,"y":34.3},{"s":"v13","x":52.92,"y":22.2},{"s":"v13","x":56,"y":0},
{"s":"v135","x":63.28,"y":92.5},{"s":"v135","x":65.77,"y":72.2},{"s":"v135","x":68.5,"y":53.4},{"s":"v135","x":71.2,"y":34},{"s":"v135","x":72.4,"y":25.1},{"s":"v135","x":75.77,"y":0},
{"s":"v14","x":75.88,"y":145.7},{"s":"v14","x":77.1,"y":134.6},{"s":"v14","x":78.6,"y":124.5},{"s":"v14","x":82.7,"y":95.7},{"s":"v14","x":84.2,"y":83.1},{"s":"v14","x":92,"y":25.1},{"s":"v14","x":95.5,"y":0},
{"s":"v145","x":86.6,"y":210},{"s":"v145","x":88.4,"y":199.3},{"s":"v145","x":90.1,"y":185.8},{"s":"v145","x":92.2,"y":170.5},{"s":"v145","x":94.3,"y":154.6},{"s":"v145","x":96.6,"y":136.3},{"s":"v145","x":102.6,"y":96.1},{"s":"v145","x":104.7,"y":79},{"s":"v145","x":115.4,"y":0},
{"s":"v15","x":106.7,"y":210},{"s":"v15","x":110,"y":185.8},{"s":"v15","x":112.2,"y":171.2},{"s":"v15","x":118.2,"y":126.6},{"s":"v15","x":126.5,"y":60.3},{"s":"v15","x":130,"y":40.7},
{"s":"v155","x":126.6,"y":210},{"s":"v155","x":130,"y":186.3}],
"dpMinor":[{"x":140.6,"x2":141.25,"y":7.2},{"x":140.6,"x2":141.25,"y":9.66},{"x":140.6,"x2":141.25,"y":10.17},{"x":140.6,"x2":141.25,"y":10.7},{"x":140.6,"x2":141.25,"y":11.2},{"x":140.6,"x2":141.25,"y":11.76},{"x":140.6,"x2":141.25,"y":12.38},{"x":140.6,"x2":141.25,"y":13.01},{"x":140.6,"x2":141.25,"y":13.66},{"x":140.6,"x2":141.25,"y":14.33},{"x":140.6,"x2":141.25,"y":15.77},{"x":140.6,"x2":141.25,"y":16.55},{"x":140.6,"x2":141.25,"y":17.37},{"x":140.6,"x2":141.25,"y":18.22},{"x":140.6,"x2":141.25,"y":20.05},{"x":140.6,"x2":141.25,"y":21.04},{"x":140.6,"x2":141.25,"y":22.07},{"x":140.6,"x2":141.25,"y":23.1},{"x":140.6,"x2":141.25,"y":25.3},{"x":140.6,"x2":141.25,"y":26.4},{"x":140.6,"x2":141.25,"y":27.5},{"x":140.6,"x2":141.25,"y":28.7},{"x":140.6,"x2":141.25,"y":31.1},{"x":140.6,"x2":141.25,"y":32.4},{"x":140.6,"x2":141.25,"y":33.7},{"x":140.6,"x2":141.25,"y":35.1},{"x":140.6,"x2":141.25,"y":37.9},{"x":140.6,"x2":141.25,"y":39.4},{"x":140.6,"x2":141.25,"y":41},{"x":140.6,"x2":141.25,"y":42.6},{"x":140.6,"x2":141.25,"y":45.9},{"x":140.6,"x2":141.25,"y":47.7},{"x":140.6,"x2":141.25,"y":49.6},{"x":140.6,"x2":141.25,"y":51.6},{"x":140.6,"x2":141.25,"y":55.6},{"x":140.6,"x2":141.25,"y":57.7},{"x":140.6,"x2":141.25,"y":59.9},{"x":140.6,"x2":141.25,"y":62.3},{"x":140.6,"x2":141.25,"y":67.3},{"x":140.6,"x2":141.25,"y":69.9},{"x":140.6,"x2":141.25,"y":72.6},{"x":140.6,"x2":141.25,"y":75.1},{"x":140.6,"x2":141.25,"y":80.3},{"x":140.6,"x2":141.25,"y":83.3},{"x":140.6,"x2":141.25,"y":86.4},{"x":140.6,"x2":141.25,"y":89.6},{"x":140.6,"x2":141.25,"y":96.3},{"x":140.6,"x2":141.25,"y":99.7},{"x":140.6,"x2":141.25,"y":103.2},{"x":140.6,"x2":141.25,"y":107},{"x":140.6,"x2":141.25,"y":114.5},{"x":140.6,"x2":141.25,"y":118.6},{"x":140.6,"x2":141.25,"y":122.8},{"x":140.6,"x2":141.25,"y":127.1},{"x":140.6,"x2":141.25,"y":136.1},{"x":140.6,"x2":141.25,"y":140.8},{"x":140.6,"x2":141.25,"y":145.7},{"x":140.6,"x2":141.25,"y":150.6},{"x":140.6,"x2":141.25,"y":161},{"x":140.6,"x2":141.25,"y":166.6},{"x":140.6,"x2":141.25,"y":172.3},{"x":140.6,"x2":141.25,"y":178.3},{"x":140.6,"x2":141.25,"y":190.7},{"x":140.6,"x2":141.25,"y":197.1},{"x":140.6,"x2":141.25,"y":204},
{"x":140.07,"x2":141.25,"y":5.48},{"x":140.07,"x2":141.25,"y":9.17},{"x":140.07,"x2":141.25,"y":15.02},{"x":140.07,"x2":141.25,"y":19.1},{"x":140.07,"x2":141.25,"y":24.18},{"x":140.07,"x2":141.25,"y":29.9},{"x":140.07,"x2":141.25,"y":36.5},{"x":140.07,"x2":141.25,"y":44.2},{"x":140.07,"x2":141.25,"y":53.6},{"x":140.07,"x2":141.25,"y":64.8},{"x":140.07,"x2":141.25,"y":77.6},{"x":140.07,"x2":141.25,"y":92.9},{"x":140.07,"x2":141.25,"y":110.7},{"x":140.07,"x2":141.25,"y":131.5},{"x":140.07,"x2":141.25,"y":155.7},{"x":140.07,"x2":141.25,"y":184.4},
{"x":141.25,"x2":142.43,"y":15},{"x":141.25,"x2":142.43,"y":30},{"x":141.25,"x2":142.43,"y":45.1},{"x":141.25,"x2":142.43,"y":59.8},{"x":141.25,"x2":142.43,"y":74.8},{"x":141.25,"x2":142.43,"y":89.9},{"x":141.25,"x2":142.43,"y":104.8},{"x":141.25,"x2":142.43,"y":120.8},{"x":141.25,"x2":142.43,"y":136},{"x":141.25,"x2":142.43,"y":152},{"x":141.25,"x2":142.43,"y":167.1},{"x":141.25,"x2":142.43,"y":183},{"x":141.25,"x2":142.43,"y":199}],
"dp":[{"t":"0","x":139.8,"y":5.48},{"t":"10","x":139.8,"y":9.17},{"t":"20","x":139.8,"y":15.02},{"t":"25","x":139.8,"y":19.1},{"t":"30","x":139.8,"y":24.18},{"t":"35","x":139.8,"y":29.9},{"t":"40","x":139.8,"y":36.5},{"t":"45","x":139.8,"y":44.2},{"t":"50","x":139.8,"y":53.6},{"t":"55","x":139.8,"y":64.8},{"t":"60","x":139.8,"y":77.6},{"t":"65","x":139.8,"y":92.9},{"t":"70","x":139.8,"y":110.7},{"t":"75","x":139.8,"y":131.5},{"t":"80","x":139.8,"y":155.7},{"t":"85","x":139.8,"y":184.4}],
"vp":[{"t":".1","x":143.1,"y":15},{"t":".2","x":143.1,"y":30},{"t":".3","x":143.1,"y":45.1},{"t":".4","x":143.1,"y":59.8},{"t":".5","x":143.1,"y":74.8},{"t":".6","x":143.1,"y":89.9},{"t":".7","x":143.1,"y":104.8},{"t":".8","x":143.1,"y":120.8},{"t":".9","x":143.1,"y":136},{"t":"1","x":143.1,"y":152},{"t":"1.1","x":143.1,"y":167.1},{"t":"1.2","x":143.1,"y":183},{"t":"1.3","x":143.1,"y":199}],
"xl":[{"t":"-10","x":-10,"y":-2.5},{"t":"-5","x":-5,"y":-2.5},{"t":"0","x":0,"y":-2.5},{"t":"5","x":5,"y":-2.5},{"t":"10","x":10,"y":-2.5},{"t":"15","x":15,"y":-2.5},{"t":"20","x":20,"y":-2.5},{"t":"25","x":25,"y":-2.5},{"t":"30","x":30,"y":-2.5},{"t":"35","x":35,"y":-2.5},{"t":"40","x":40,"y":-2.5},{"t":"45","x":45,"y":-2.5},{"t":"50","x":50,"y":-2.5},{"t":"55","x":55,"y":-2.5},{"t":"60","x":60,"y":-2.5},{"t":"65","x":65,"y":-2.5},{"t":"70","x":70,"y":-2.5},{"t":"75","x":75,"y":-2.5},{"t":"80","x":80,"y":-2.5},{"t":"85","x":85,"y":-2.5},{"t":"90","x":90,"y":-2.5},{"t":"95","x":95,"y":-2.5},{"t":"100","x":100,"y":-2.5},{"t":"105","x":105,"y":-2.5},{"t":"110","x":110,"y":-2.5},{"t":"115","x":115,"y":-2.5},{"t":"120","x":120,"y":-2.5},{"t":"125","x":125,"y":-2.5},{"t":"130","x":130,"y":-2.5}],
"yl":[{"t":"10","x":130.7,"y":10.3},{"t":"20","x":130.7,"y":20.3},{"t":"30","x":130.7,"y":30.3},{"t":"40","x":130.7,"y":40.3},{"t":"50","x":130.7,"y":50.3},{"t":"60","x":130.7,"y":60.3},{"t":"70","x":130.7,"y":70.3},{"t":"80","x":130.7,"y":80.3},{"t":"90","x":130.7,"y":90.3},{"t":"100","x":130.7,"y":100.3},{"t":"110","x":130.7,"y":110.3},{"t":"120","x":130.7,"y":120.3},{"t":"130","x":130.7,"y":130.3},{"t":"140","x":130.7,"y":140.3},{"t":"150","x":130.7,"y":150.3},{"t":"160","x":130.7,"y":160.3},{"t":"170","x":130.7,"y":170.3},{"t":"180","x":130.7,"y":180.3},{"t":"190","x":130.7,"y":190.3},{"t":"200","x":130.7,"y":200.3},{"t":"210","x":130.7,"y":210.3}],
"wbOut":[{"t":"-5","x":-6.28,"y":5.9},{"t":"0","x":-1.11,"y":7.15},{"t":"5","x":3.42,"y":8.9},{"t":"10","x":8.77,"y":10.9},{"t":"15","x":13.75,"y":13.4},{"t":"20","x":18.6,"y":16.7},{"t":"25","x":23.45,"y":20.7},{"t":"30","x":28.35,"y":25.9},{"t":"35","x":33.25,"y":31.6},{"t":"40","x":38.2,"y":38},{"t":"45","x":43,"y":46},{"t":"50","x":47.85,"y":55.4},{"t":"55","x":52.7,"y":66.3},{"t":"60","x":57.5,"y":79.7},{"t":"65","x":62.35,"y":94.5},{"t":"70","x":67.25,"y":112.5},{"t":"75","x":72.15,"y":133.5},{"t":"80","x":76.95,"y":157.9},{"t":"85","x":81.7,"y":186.6}],
"wbIn":[{"t":"0","x":3.15,"y":2.96},{"t":"5","x":8.2,"y":4.5},{"t":"10","x":14.3,"y":5},{"t":"15","x":19.4,"y":7.2},{"t":"20","x":25,"y":9.6},{"t":"25","x":30.5,"y":12.8},{"t":"30","x":36.3,"y":16.6},{"t":"35","x":40.7,"y":20.9},{"t":"40","x":46.3,"y":26},{"t":"45","x":51.7,"y":33},{"t":"50","x":57.5,"y":41},{"t":"55","x":63.3,"y":50.4},{"t":"60","x":68.8,"y":62.2},{"t":"65","x":74.5,"y":76},{"t":"70","x":80.1,"y":92.8},{"t":"75","x":85.6,"y":112.5},{"t":"80","x":91.7,"y":135.8},{"t":"90","x":102.8,"y":194.7},{"t":"85 WET BULB TEMPERATURE - °F","x":105.6,"y":149}],
"volLab":[{"t":"12.0","x":16.06,"y":3.1},{"t":"13.0","x":52.92,"y":24.9},{"t":"15.0","x":110.7,"y":183.2},{"t":"14.0 VOLUME- CU.FT. PER LB. DRY AIR","x":88.2,"y":57.8}],
"rhA":[{"t":"90%","x":62.59,"y":79},{"t":"80%","x":62.68,"y":70.2},{"t":"70%","x":62.8,"y":61.3},{"t":"25%","x":104.93,"y":85.9}],
"rhB":[{"t":"60%","x":63.05,"y":52.9},{"t":"50%","x":63.2,"y":44}],
"rhC":[{"t":"40%","x":63.4,"y":35.4},{"t":"30%","x":63.5,"y":26.6},{"t":"15%","x":105.2,"y":51.2}],
"rhD":[{"t":"20%","x":63.5,"y":18.3}],
"rhE":[{"t":"10% RELATIVE HUMIDITY","x":71,"y":11.7}],
"rhF":[{"t":"8% RELATIVE HUMIDITY","x":111.76,"y":33}],
"rhG":[{"t":"6%","x":105.96,"y":20.9},{"t":"4%","x":105.96,"y":14.3},{"t":"2%","x":105.9,"y":7.5}],
"enthOut":[{"t":"0","x":-9,"y":13.7},{"t":"5","x":0.61,"y":31.9},{"t":"10","x":7.77,"y":51.4},{"t":"15","x":16.3,"y":69.8},{"t":"20","x":24.8,"y":88.3},{"t":"25","x":33.3,"y":106.7},{"t":"30","x":41.9,"y":125.2},{"t":"35","x":50.5,"y":143.7},{"t":"40","x":59,"y":162.2},{"t":"45","x":67.5,"y":180.5},{"t":"50","x":76,"y":199},{"t":"55","x":87.6,"y":212.9},{"t":"60","x":108.4,"y":212.9},{"t":"0","x":11,"y":-17.2},{"t":"5","x":31.76,"y":-17.2},{"t":"10","x":53,"y":-17.2},{"t":"15","x":73.83,"y":-17.2},{"t":"20","x":94.6,"y":-17.2},{"t":"25","x":115.38,"y":-17.2},{"t":"30","x":136.15,"y":-17.2},{"t":"35","x":151,"y":-8.38},{"t":"40","x":151,"y":22.8},{"t":"45","x":151,"y":53.9},{"t":"50","x":151,"y":85.2},{"t":"55","x":151,"y":116.7},{"t":"60","x":151,"y":148.2}],
"logo":[{"t":"F","x":-5.95,"y":195.06},{"t":"L","x":1.88,"y":195.06},{"t":"U","x":10.85,"y":195.06},{"t":"O","x":20.9,"y":195.06},{"t":"R","x":30.98,"y":195.06}]
},
"encoding":{"x":{"field":"x","type":"quantitative","scale":{"domain":[-11.904,155.096],"nice":false,"zero":false},"axis":null},"y":{"field":"y","type":"quantitative","scale":{"domain":[-19.855,215.76],"nice":false,"zero":false},"axis":null}},
"layer":[
{"data":{"name":"gv"},"transform":[{"filter":"datum.x%2!=0"}],"mark":{"type":"rule","color":"#b98f8f","strokeWidth":1.5},"encoding":{"y2":{"datum":0}}},
{"data":{"name":"gh"},"transform":[{"filter":"datum.y%4!=0&&datum.y%10!=0"}],"mark":{"type":"rule","color":"#b98f8f","strokeWidth":1.5},"encoding":{"x2":{"datum":130}}},
{"data":{"name":"gv"},"transform":[{"filter":"datum.x%2==0"}],"mark":{"type":"rule","color":"#8a4444","strokeWidth":1},"encoding":{"y2":{"datum":0}}},
{"data":{"name":"gh"},"transform":[{"filter":"datum.y%4==0&&datum.y%10!=0"}],"mark":{"type":"rule","color":"#8a4444","strokeWidth":1},"encoding":{"x2":{"datum":130}}},
{"data":{"name":"gh"},"transform":[{"filter":"datum.y%10==0"}],"mark":{"type":"rule","color":"#8a3c3c","strokeWidth":1.6},"encoding":{"x2":{"datum":130}}},
{"data":{"name":"wb"},"transform":[{"filter":"datum.n%5!=0"}],"mark":{"type":"rule","color":"#84403f","strokeWidth":1},"encoding":{"x2":{"field":"x2"},"y2":{"field":"y2"}}},
{"data":{"name":"wb"},"transform":[{"filter":"datum.n%5==0"}],"mark":{"type":"rule","color":"#7a2f2f","strokeWidth":1.6},"encoding":{"x2":{"field":"x2"},"y2":{"field":"y2"}}},
{"data":{"name":"hl"},"mark":{"type":"rule","color":"#000","strokeWidth":1.3},"encoding":{"x2":{"field":"x2"},"y2":{"field":"y2"}}},
{"data":{"name":"rh"},"mark":{"type":"line","color":"#16168c","strokeWidth":1.4},"encoding":{"detail":{"field":"s"}}},
{"data":{"name":"rhThin"},"mark":{"type":"line","color":"#16168c","strokeWidth":1},"encoding":{"detail":{"field":"s"}}},
{"data":{"name":"frameK"},"mark":{"type":"rule","color":"#000","strokeWidth":1.3},"encoding":{"x2":{"field":"x2"},"y2":{"field":"y2"}}},
{"data":{"name":"frameB"},"mark":{"type":"rule","color":"#16168c","strokeWidth":2},"encoding":{"x2":{"field":"x2"},"y2":{"field":"y2"}}},
{"data":{"name":"combL"},"mark":{"type":"point","shape":"M0 0L18 20M3.78 -4.18L10.28 3.32M7.56 -8.36L14.06 -0.86M11.34 -12.54L17.84 -5.04M15.12 -16.72L21.62 -9.22","size":4,"filled":false,"color":"#000","opacity":1,"strokeWidth":0.9}},
{"data":{"name":"combB"},"mark":{"type":"point","shape":"M0 0L-20 -16M9.18 0L2.18 -7M18.36 0L11.36 -7M27.54 0L20.54 -7M36.72 0L29.72 -7","size":4,"filled":false,"color":"#000","opacity":1,"strokeWidth":0.9}},
{"data":{"name":"combR"},"mark":{"type":"point","shape":"M0 0L-20 -16M0 -7.1L-7 -14.1M0 -14.2L-7 -21.2M0 -21.3L-7 -28.3M0 -28.4L-7 -35.4","size":4,"filled":false,"color":"#000","opacity":1,"strokeWidth":0.9}},
{"data":{"name":"minUL"},"mark":{"type":"point","shape":"M0 0L-7 -7","size":4,"filled":false,"color":"#000","opacity":1,"strokeWidth":0.9}},
{"data":{"name":"minDR"},"mark":{"type":"point","shape":"M0 0L6.5 7.5","size":4,"filled":false,"color":"#000","opacity":1,"strokeWidth":0.9}},
{"data":{"name":"dpMinor"},"mark":{"type":"rule","color":"#000","strokeWidth":1},"encoding":{"x2":{"field":"x2"}}},
{"data":{"name":"dp"},"mark":{"type":"text","font":"Liberation Sans","fontSize":16,"color":"#111","align":"right","baseline":"middle","dy":1},"encoding":{"text":{"field":"t"}}},
{"data":{"name":"vp"},"mark":{"type":"text","font":"Liberation Sans","fontSize":16,"color":"#111","align":"left","baseline":"middle","dy":1},"encoding":{"text":{"field":"t"}}},
{"data":{"name":"xl"},"mark":{"type":"text","font":"Liberation Sans","fontSize":16,"color":"#8c4a4a","baseline":"middle"},"encoding":{"text":{"field":"t"}}},
{"data":{"name":"yl"},"mark":{"type":"text","font":"Liberation Sans","fontSize":16,"color":"#8c4a4a","align":"left","baseline":"middle"},"encoding":{"text":{"field":"t"}}},
{"data":{"name":"wbOut"},"mark":{"type":"text","font":"Liberation Sans","fontSize":16,"color":"#8c4a4a","baseline":"middle"},"encoding":{"text":{"field":"t"}}},
{"data":{"name":"enthOut"},"mark":{"type":"text","font":"Liberation Sans","fontSize":16,"color":"#111","baseline":"middle","angle":42},"encoding":{"text":{"field":"t"}}},
{"data":{"name":"wbIn"},"mark":{"type":"text","font":"Liberation Sans","fontSize":16,"color":"#fff","stroke":"#fff","strokeWidth":7,"baseline":"middle","angle":38},"encoding":{"text":{"field":"t"}}},
{"data":{"name":"wbIn"},"mark":{"type":"text","font":"Liberation Sans","fontSize":16,"color":"#8c4a4a","baseline":"middle","angle":38},"encoding":{"text":{"field":"t"}}},
{"data":{"name":"volLab"},"mark":{"type":"text","font":"Liberation Sans","fontSize":16,"color":"#fff","stroke":"#fff","strokeWidth":7,"baseline":"middle","angle":75},"encoding":{"text":{"field":"t"}}},
{"data":{"name":"volLab"},"mark":{"type":"text","font":"Liberation Sans","fontSize":16,"color":"#16168c","baseline":"middle","angle":75},"encoding":{"text":{"field":"t"}}},
{"data":{"name":"rhA"},"mark":{"type":"text","font":"Liberation Sans","fontSize":16,"color":"#fff","stroke":"#fff","strokeWidth":7,"baseline":"middle","angle":-48},"encoding":{"text":{"field":"t"}}},
{"data":{"name":"rhA"},"mark":{"type":"text","font":"Liberation Sans","fontSize":16,"color":"#16168c","baseline":"middle","angle":-48},"encoding":{"text":{"field":"t"}}},
{"data":{"name":"rhB"},"mark":{"type":"text","font":"Liberation Sans","fontSize":16,"color":"#fff","stroke":"#fff","strokeWidth":7,"baseline":"middle","angle":-38},"encoding":{"text":{"field":"t"}}},
{"data":{"name":"rhB"},"mark":{"type":"text","font":"Liberation Sans","fontSize":16,"color":"#16168c","baseline":"middle","angle":-38},"encoding":{"text":{"field":"t"}}},
{"data":{"name":"rhC"},"mark":{"type":"text","font":"Liberation Sans","fontSize":16,"color":"#fff","stroke":"#fff","strokeWidth":7,"baseline":"middle","angle":-28},"encoding":{"text":{"field":"t"}}},
{"data":{"name":"rhC"},"mark":{"type":"text","font":"Liberation Sans","fontSize":16,"color":"#16168c","baseline":"middle","angle":-28},"encoding":{"text":{"field":"t"}}},
{"data":{"name":"rhD"},"mark":{"type":"text","font":"Liberation Sans","fontSize":16,"color":"#fff","stroke":"#fff","strokeWidth":7,"baseline":"middle","angle":-15},"encoding":{"text":{"field":"t"}}},
{"data":{"name":"rhD"},"mark":{"type":"text","font":"Liberation Sans","fontSize":16,"color":"#16168c","baseline":"middle","angle":-15},"encoding":{"text":{"field":"t"}}},
{"data":{"name":"rhE"},"mark":{"type":"text","font":"Liberation Sans","fontSize":16,"color":"#fff","stroke":"#fff","strokeWidth":7,"baseline":"middle","angle":-9.6},"encoding":{"text":{"field":"t"}}},
{"data":{"name":"rhE"},"mark":{"type":"text","font":"Liberation Sans","fontSize":16,"color":"#16168c","baseline":"middle","angle":-9.6},"encoding":{"text":{"field":"t"}}},
{"data":{"name":"rhF"},"mark":{"type":"text","font":"Liberation Sans","fontSize":14,"fontWeight":"bold","color":"#fff","stroke":"#fff","strokeWidth":7,"baseline":"middle","angle":-21.6},"encoding":{"text":{"field":"t"}}},
{"data":{"name":"rhF"},"mark":{"type":"text","font":"Liberation Sans","fontSize":14,"fontWeight":"bold","color":"#16168c","baseline":"middle","angle":-21.6},"encoding":{"text":{"field":"t"}}},
{"data":{"name":"rhG"},"mark":{"type":"text","font":"Liberation Sans","fontSize":13,"fontWeight":"bold","color":"#fff","stroke":"#fff","strokeWidth":6,"baseline":"middle","angle":-14},"encoding":{"text":{"field":"t"}}},
{"data":{"name":"rhG"},"mark":{"type":"text","font":"Liberation Sans","fontSize":13,"fontWeight":"bold","color":"#16168c","baseline":"middle","angle":-14},"encoding":{"text":{"field":"t"}}},
{"data":{"values":[{"t":"DEW POINT TEMPERATURE - °F","x":137.69,"y":21.62},{"t":"VAPOR PRESSURE - INCHES OF MERCURY","x":146.12,"y":105.6},{"t":"ENTHALPY - BTU PER POUND OF DRY AIR","x":153.6,"y":105.2}]},"mark":{"type":"text","font":"Liberation Sans","fontSize":16,"color":"#111","baseline":"middle","angle":-90},"encoding":{"text":{"field":"t"}}},
{"data":{"values":[{"t":"HUMIDITY RATIO - GRAINS OF MOISTURE PER POUND OF DRY AIR","x":135.15,"y":105.3}]},"mark":{"type":"text","font":"Liberation Sans","fontSize":16,"color":"#8c4a4a","baseline":"middle","angle":-90},"encoding":{"text":{"field":"t"}}},
{"data":{"values":[{"t":"DRY BULB TEMPERATURE - °F","x":72.77,"y":-7.94}]},"mark":{"type":"text","font":"Liberation Sans","fontSize":16,"color":"#8c4a4a","baseline":"middle"},"encoding":{"text":{"field":"t"}}},
{"data":{"values":[{"t":"ENTHALPY - BTU PER POUND OF DRY AIR","x":18.87,"y":88.5}]},"mark":{"type":"text","font":"Liberation Sans","fontSize":16.5,"color":"#111","baseline":"middle","angle":-47.9},"encoding":{"text":{"field":"t"}}},
{"data":{"name":"logo"},"mark":{"type":"text","font":"Liberation Sans","fontSize":112,"fontWeight":"bold","fontStyle":"italic","color":"#2a1a70","stroke":"#2a1a70","strokeWidth":3,"baseline":"alphabetic","dx":-5},"encoding":{"text":{"field":"t"}}},
{"data":{"name":"logo"},"mark":{"type":"text","font":"Liberation Sans","fontSize":112,"fontWeight":"bold","fontStyle":"italic","color":"#2a1a70","stroke":"#2a1a70","strokeWidth":3,"baseline":"alphabetic","dx":5},"encoding":{"text":{"field":"t"}}},
{"data":{"name":"logo"},"mark":{"type":"text","font":"Liberation Sans","fontSize":112,"fontWeight":"bold","fontStyle":"italic","color":"#2a1a70","stroke":"#2a1a70","strokeWidth":3,"baseline":"alphabetic"},"encoding":{"text":{"field":"t"}}},
{"data":{"values":[{"t":"®","x":36.87,"y":194.2}]},"mark":{"type":"text","font":"Liberation Sans","fontSize":32,"fontWeight":"bold","color":"#111","baseline":"middle"},"encoding":{"text":{"field":"t"}}},
{"data":{"values":[{"t":"www.fluor.com","x":12.53,"y":188.1},{"t":"USA","x":12.57,"y":179}]},"mark":{"type":"text","font":"Liberation Sans","fontSize":23,"color":"#222","baseline":"alphabetic"},"encoding":{"text":{"field":"t"}}},
{"data":{"values":[{"t":"100 Fluor Daniel Drive","x":-9.68,"y":183.5},{"t":"Greenville, SC","x":13.66,"y":183.5},{"t":"29607","x":29.14,"y":183.5}]},"mark":{"type":"text","font":"Liberation Sans","fontSize":23,"color":"#222","align":"left","baseline":"alphabetic"},"encoding":{"text":{"field":"t"}}},
{"data":{"values":[{"t":"•","x":12.39,"y":183.5},{"t":"•","x":28.08,"y":183.5}]},"mark":{"type":"text","font":"Liberation Sans","fontSize":23,"color":"#2a1a70","baseline":"alphabetic"},"encoding":{"text":{"field":"t"}}},
{"data":{"values":[{"t":"PSYCHROMETRIC","x":-9.82,"y":170.2},{"t":"CHART","x":-9.82,"y":162.5}]},"mark":{"type":"text","font":"Liberation Sans","fontSize":47.6,"fontWeight":"bold","color":"#000","align":"left","baseline":"alphabetic"},"encoding":{"text":{"field":"t"}}},
{"data":{"values":[{"t":"Normal Temperature","x":-9.82,"y":153.3},{"t":"SEA LEVEL","x":-9.82,"y":135.2}]},"mark":{"type":"text","font":"Liberation Sans","fontSize":41.8,"fontWeight":"bold","color":"#000","align":"left","baseline":"alphabetic"},"encoding":{"text":{"field":"t"}}},
{"data":{"values":[{"t":"I-P Units","x":-9.82,"y":146}]},"mark":{"type":"text","font":"Liberation Sans","fontSize":31.5,"fontWeight":"bold","color":"#000","align":"left","baseline":"alphabetic"},"encoding":{"text":{"field":"t"}}},
{"data":{"values":[{"t":"BAROMETRIC PRESSURE: 29.921 in. HG","x":-9.82,"y":129.6}]},"mark":{"type":"text","font":"Liberation Sans","fontSize":18,"color":"#000","align":"left","baseline":"alphabetic"},"encoding":{"text":{"field":"t"}}},
{"data":{"values":[{"t":"Chart by: HANDS DOWN SOFTWARE, www.handsdownsoftware.com","x":-9.82,"y":-9.62}]},"mark":{"type":"text","font":"Liberation Sans","fontSize":14.1,"fontWeight":"bold","color":"#000","align":"left","baseline":"alphabetic"},"encoding":{"text":{"field":"t"}}}
]}
